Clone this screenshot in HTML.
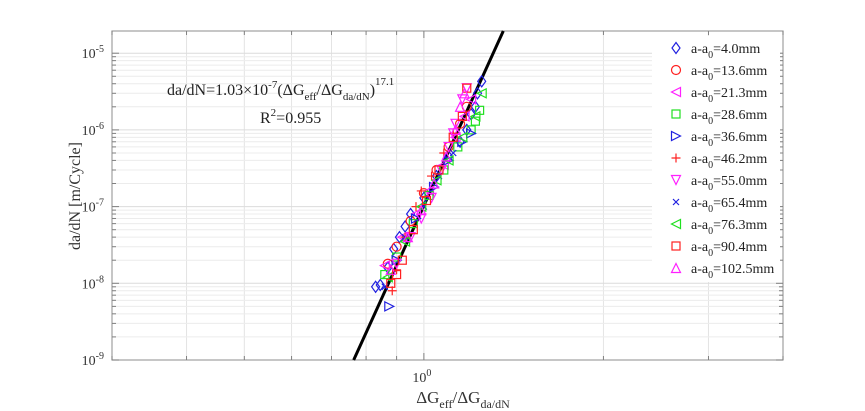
<!DOCTYPE html>
<html><head><meta charset="utf-8"><style>
body{margin:0;background:#fff;}
svg{display:block;font-family:"Liberation Serif",serif;}
</style></head><body>
<svg id="chart" width="865" height="411"></svg>
<script>
const xTicksMinor=[0.3,0.4,0.5,0.6,0.7,0.8,0.9,1,2,3,4];
const yDecades=[-9,-8,-7,-6,-5];
const seriesNames=["4.0mm","13.6mm","21.3mm","28.6mm","36.6mm","46.2mm","55.0mm","65.4mm","76.3mm","90.4mm","102.5mm"];
const seriesColors=["#2020e0","#ff2020","#ff20ff","#20e020","#2020e0","#ff2020","#ff20ff","#2020e0","#20e020","#ff2020","#ff20ff"];
const seriesMarkers=["diamond","circle","left","square","right","plus","down","x","left","square","up"];
const s1x=[0.83,0.845,0.87,0.89,0.91,0.93,0.95,1.0,1.05,1.1,1.15,1.18,1.2,1.22,1.23,1.25];
const s1y=[9e-9,9.5e-9,1.6e-8,2.8e-8,4e-8,5.5e-8,8e-8,1.3e-7,2.5e-7,4.5e-7,7e-7,1e-6,1.6e-6,2e-6,3e-6,4.3e-6];
const s2x=[0.87,0.9,0.95,1.0,1.05,1.1,1.15,1.18];
const s2y=[1.8e-8,3e-8,6.5e-8,1.5e-7,3e-7,6e-7,1.2e-6,2e-6];
const s3x=[0.86,0.92,0.97,1.02,1.08,1.13,1.17,1.2];
const s3y=[1.7e-8,4e-8,8e-8,1.6e-7,3.5e-7,8e-7,1.5e-6,2.5e-6];
const s4x=[0.86,0.9,0.96,1.02,1.08,1.14,1.2,1.22,1.24];
const s4y=[1.3e-8,2.2e-8,6e-8,1.4e-7,3e-7,6e-7,1e-6,1.3e-6,1.8e-6];
const s5x=[0.875,0.9,0.97,1.04,1.1,1.16,1.2];
const s5y=[5e-9,2e-8,7e-8,1.8e-7,4e-7,7e-7,9e-7];
const s6x=[0.885,0.9,0.93,0.97,0.99,1.03,1.08,1.12];
const s6y=[8e-9,1.5e-8,4e-8,1e-7,1.6e-7,2.5e-7,5e-7,9e-7];
const s7x=[0.9,0.95,0.99,1.03,1.07,1.1,1.12,1.13,1.16,1.18];
const s7y=[1.8e-8,4e-8,7e-8,1.3e-7,3e-7,6e-7,9e-7,1.2e-6,2.5e-6,3.5e-6];
const s8x=[0.86,0.93,1.0,1.06,1.12];
const s8y=[9e-9,4e-8,1e-7,2.5e-7,5e-7];
const s9x=[0.87,0.93,0.99,1.05,1.1,1.16,1.22,1.25];
const s9y=[1.2e-8,3.5e-8,1e-7,2.2e-7,4e-7,8e-7,1.5e-6,3e-6];
const s10x=[0.88,0.9,0.92,0.96,1.01,1.06,1.12,1.16,1.18];
const s10y=[1e-8,1.3e-8,2e-8,5e-8,1.2e-7,3e-7,8e-7,1.5e-6,3.5e-6];
const s11x=[0.88,0.94,0.99,1.04,1.09,1.13,1.15,1.17];
const s11y=[1.5e-8,4e-8,9e-8,2e-7,4.5e-7,1e-6,2e-6,3e-6];
const fitCoef=1.03e-7, fitExp=17.1;

const SX=[s1x,s2x,s3x,s4x,s5x,s6x,s7x,s8x,s9x,s10x,s11x];
const SY=[s1y,s2y,s3y,s4y,s5y,s6y,s7y,s8y,s9y,s10y,s11y];
const L=112,R=783,T=31,B=360;
const xMin=0.3,xMax=4,yMin=1e-9,yMax=Math.pow(10,-9+(B-T)/76.7);
const ns="http://www.w3.org/2000/svg";
const svg=document.getElementById('chart');
function X(v){return L+(Math.log10(v)-Math.log10(xMin))/(Math.log10(xMax)-Math.log10(xMin))*(R-L);}
function Y(v){return B-(Math.log10(v)-Math.log10(yMin))/(Math.log10(yMax)-Math.log10(yMin))*(B-T);}
function el(t,a,p){const e=document.createElementNS(ns,t);for(const k in a)e.setAttribute(k,a[k]);(p||svg).appendChild(e);return e;}

const grid=el('g',{});


xTicksMinor.forEach(v=>{const x=X(v);if(x>L+1&&x<R-1){el('line',{x1:x,x2:x,y1:T,y2:B,stroke:'#e4e4e4','stroke-width':1},grid);}});
yDecades.forEach(d=>{for(let m=1;m<10;m++){const v=m*Math.pow(10,d);if(v<yMin||v>yMax)continue;const y=Y(v);el('line',{x1:L,x2:R,y1:y,y2:y,stroke:m==1?'#dcdcdc':'#ececec','stroke-width':1},grid);}});

const frame=el('rect',{x:L,y:T,width:R-L,height:B-T,fill:'none',stroke:'#a0a0a0','stroke-width':1.2});


const ticks=el('g',{stroke:'#808080','stroke-width':1});


yDecades.forEach(d=>{for(let m=1;m<10;m++){const v=m*Math.pow(10,d);if(v<yMin||v>yMax)continue;const y=Y(v);const len=m==1?7:4;el('line',{x1:L,x2:L+len,y1:y,y2:y},ticks);el('line',{x1:R,x2:R-len,y1:y,y2:y},ticks);}});
xTicksMinor.forEach(v=>{const x=X(v);const len=v==1?7:4;el('line',{x1:x,x2:x,y1:B,y2:B-len},ticks);el('line',{x1:x,x2:x,y1:T,y2:T+len},ticks);});

yDecades.forEach(d=>{const t=el('text',{x:L-8,y:Y(Math.pow(10,d))+5,'text-anchor':'end','font-size':14,fill:'#333'});


t.innerHTML='10<tspan dy="-6" font-size="10">'+d+'</tspan>';});
const xl=el('text',{x:X(1)-2,y:B+22,'text-anchor':'middle','font-size':14,fill:'#333'});


xl.innerHTML='10<tspan dy="-6" font-size="10">0</tspan>';

const yt=el('text',{x:0,y:0,transform:'translate(80,196) rotate(-90)','text-anchor':'middle','font-size':16,fill:'#333'});


yt.textContent='da/dN [m/Cycle]';
const xt=el('text',{x:463,y:403,'text-anchor':'middle','font-size':17,fill:'#333'});


xt.innerHTML='ΔG<tspan dy="5" font-size="12">eff</tspan><tspan dy="-5">/ΔG</tspan><tspan dy="5" font-size="12">da/dN</tspan>';

const xa=Math.pow(yMin/fitCoef,1/fitExp), xb=Math.pow(yMax/fitCoef,1/fitExp);
const fl=el('line',{x1:X(xa),y1:Y(yMin),x2:X(xb),y2:Y(yMax),stroke:'#000','stroke-width':3});



function marker(type,cx,cy,c,g){const s=4.5;const a={fill:'none',stroke:c,'stroke-width':1.2};let e;
 if(type=='diamond')e=el('polygon',Object.assign({points:`${cx},${cy-s-1} ${cx+s-0.5},${cy} ${cx},${cy+s+1} ${cx-s+0.5},${cy}`},a),g);
 else if(type=='circle')e=el('circle',Object.assign({cx:cx,cy:cy,r:s},a),g);
 else if(type=='square')e=el('rect',Object.assign({x:cx-s+0.5,y:cy-s+0.5,width:2*s-1,height:2*s-1},a),g);
 else if(type=='left')e=el('polygon',Object.assign({points:`${cx-s},${cy} ${cx+s},${cy-s} ${cx+s},${cy+s}`},a),g);
 else if(type=='right')e=el('polygon',Object.assign({points:`${cx+s},${cy} ${cx-s},${cy-s} ${cx-s},${cy+s}`},a),g);
 else if(type=='up')e=el('polygon',Object.assign({points:`${cx},${cy-s} ${cx+s},${cy+s} ${cx-s},${cy+s}`},a),g);
 else if(type=='down')e=el('polygon',Object.assign({points:`${cx},${cy+s} ${cx+s},${cy-s} ${cx-s},${cy-s}`},a),g);
 else if(type=='plus')e=el('path',Object.assign({d:`M${cx-s} ${cy}H${cx+s}M${cx} ${cy-s}V${cy+s}`},a),g);
 else e=el('path',Object.assign({d:`M${cx-3} ${cy-3}L${cx+3} ${cy+3}M${cx-3} ${cy+3}L${cx+3} ${cy-3}`},a),g);
 return e;}
SX.forEach((xs,i)=>{const g=el('g',{});
 
 
 xs.forEach((v,j)=>{const m=marker(seriesMarkers[i],X(v),Y(SY[i][j]),seriesColors[i],g);
  
  });});

const eq=el('text',{x:167,y:95,'font-size':16,fill:'#222'});


eq.innerHTML='da/dN=1.03×10<tspan dy="-7" font-size="11">-7</tspan><tspan dy="7">(ΔG</tspan><tspan dy="5" font-size="11">eff</tspan><tspan dy="-5">/ΔG</tspan><tspan dy="5" font-size="11">da/dN</tspan><tspan dy="-5">)</tspan><tspan dy="-10" font-size="11">17.1</tspan>';
const r2=el('text',{x:260,y:123,'font-size':16,fill:'#222'});


r2.innerHTML='R<tspan dy="-7" font-size="11">2</tspan><tspan dy="7">=0.955</tspan>';

const lg=el('g',{});


el('rect',{x:652,y:36,width:128,height:246,fill:'#fff'},lg);
seriesNames.forEach((n,i)=>{const y=48+i*22;const e=el('g',{},lg);
 
 
 marker(seriesMarkers[i],676,y,seriesColors[i],e);
 const t=el('text',{x:691,y:y+5,'font-size':14,fill:'#222'},e);
 t.innerHTML='a-a<tspan dy="5" font-size="10">0</tspan><tspan dy="-5">='+n+'</tspan>';});
</script>
</body></html>
